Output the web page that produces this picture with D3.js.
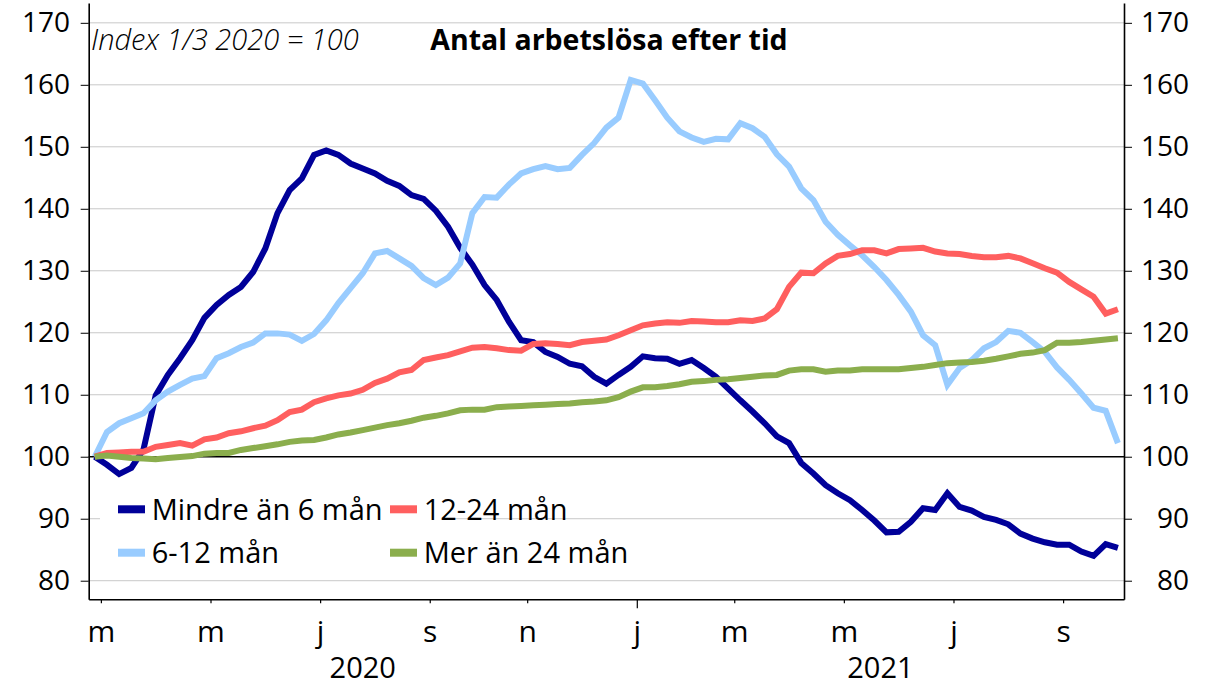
<!DOCTYPE html>
<html lang="sv">
<head>
<meta charset="UTF-8">
<title>Antal arbetslösa efter tid</title>
<script src="https://cdnjs.cloudflare.com/ajax/libs/d3/7.8.5/d3.min.js"></script>
<style>
  body { margin: 0; background: #fff; }
  svg { display: block; font-family: "Open Sans", sans-serif; }
  .grid line { stroke: #c8c8c8; stroke-width: 1; }
  .axis path, .axis line { stroke: #000; }
  .axis text { fill: #000; }
</style>
</head>
<body>
<svg id="chart" width="1216" height="686"></svg>
<script>
// weekly data, first week = v.9 2020 (index 1/3 2020 = 100)
const weeks = d3.timeMonday.range(new Date(2020, 1, 24), new Date(2021, 9, 5));

const mindre6 = [100, 98.7, 97.2, 98.2, 101.2, 109.9, 113.2, 115.9, 118.8, 122.4,
  124.5, 126.1, 127.4, 129.8, 133.6, 139.3, 143.0, 144.9, 148.7, 149.4,
  148.7, 147.3, 146.5, 145.7, 144.5, 143.7, 142.2, 141.6, 139.7, 137.1,
  133.7, 131.0, 127.7, 125.3, 121.8, 118.8, 118.5, 116.9, 116.1, 115.0,
  114.6, 112.9, 111.8, 113.2, 114.5, 116.2, 115.9, 115.8, 115.0, 115.6,
  114.3, 112.9, 111.0, 109.1, 107.3, 105.4, 103.3, 102.2, 99.0, 97.3,
  95.4, 94.1, 93.0, 91.4, 89.7, 87.8, 87.9, 89.5, 91.7, 91.4,
  94.1, 91.9, 91.3, 90.3, 89.8, 89.1, 87.6, 86.8, 86.2, 85.8,
  85.8, 84.7, 84.0, 85.9, 85.3];

const man6_12 = [100, 104.0, 105.4, 106.2, 107.0, 109.1, 110.5, 111.6, 112.6, 113.0,
  115.9, 116.7, 117.7, 118.4, 119.9, 119.9, 119.7, 118.7, 119.8, 122.0,
  124.8, 127.2, 129.6, 132.8, 133.2, 132.0, 130.8, 128.8, 127.7, 128.9,
  131.2, 139.3, 141.9, 141.8, 143.9, 145.7, 146.4, 146.9, 146.4, 146.6,
  148.7, 150.6, 153.1, 154.7, 160.8, 160.2, 157.5, 154.7, 152.5, 151.5,
  150.8, 151.3, 151.2, 153.8, 153.0, 151.6, 148.8, 146.8, 143.3, 141.4,
  137.9, 135.8, 134.1, 132.5, 130.6, 128.5, 126.1, 123.4, 119.6, 118.0,
  111.6, 114.3, 115.6, 117.5, 118.5, 120.3, 120.0, 118.5, 116.9, 114.4,
  112.4, 110.2, 107.9, 107.4, 102.2];

const man12_24 = [100, 100.6, 100.7, 100.8, 100.8, 101.6, 101.9, 102.2, 101.8, 102.8,
  103.1, 103.8, 104.1, 104.6, 105.0, 105.9, 107.2, 107.6, 108.8, 109.4,
  109.9, 110.2, 110.8, 111.9, 112.6, 113.6, 114.0, 115.6, 116.0, 116.4,
  117.0, 117.6, 117.7, 117.5, 117.2, 117.1, 118.2, 118.3, 118.2, 118.0,
  118.5, 118.7, 118.9, 119.6, 120.4, 121.2, 121.5, 121.7, 121.6, 121.9,
  121.8, 121.7, 121.7, 122.0, 121.9, 122.3, 123.8, 127.4, 129.7, 129.6,
  131.2, 132.4, 132.7, 133.3, 133.3, 132.8, 133.5, 133.6, 133.7, 133.1,
  132.8, 132.7, 132.4, 132.2, 132.2, 132.4, 132.0, 131.2, 130.4, 129.7,
  128.2, 127.0, 125.8, 123.1, 123.8];

const mer24 = [100, 100.2, 100.0, 99.8, 99.7, 99.6, 99.8, 99.95, 100.1, 100.5,
  100.6, 100.6, 101.1, 101.4, 101.7, 102.0, 102.4, 102.6, 102.7, 103.1,
  103.6, 103.9, 104.3, 104.7, 105.1, 105.4, 105.8, 106.3, 106.6, 107.0,
  107.5, 107.6, 107.6, 108.0, 108.1, 108.2, 108.3, 108.4, 108.5, 108.6,
  108.8, 108.9, 109.1, 109.6, 110.5, 111.2, 111.2, 111.4, 111.7, 112.1,
  112.2, 112.4, 112.5, 112.7, 112.9, 113.1, 113.2, 113.9, 114.1, 114.1,
  113.7, 113.9, 113.9, 114.1, 114.1, 114.1, 114.1, 114.3, 114.5, 114.8,
  115.1, 115.2, 115.3, 115.5, 115.8, 116.2, 116.6, 116.8, 117.2, 118.4,
  118.4, 118.5, 118.7, 118.9, 119.1];

const seriesNames = ["Mindre än 6 mån", "6-12 mån", "12-24 mån", "Mer än 24 mån"];
const seriesColors = ["#000099", "#99ccff", "#ff5f5f", "#8bae4d"];
const seriesValues = [mindre6, man6_12, man12_24, mer24];

const yTicks = [80, 90, 100, 110, 120, 130, 140, 150, 160, 170];
const monthLetters = ["j", "f", "m", "a", "m", "j", "j", "a", "s", "o", "n", "d"];
const years = ["2020", "2021"];

const svg = d3.select("#chart");
const plotL = 88.7, plotR = 1124, plotT = 3, plotB = 599.3;

const x = d3.scaleBand().domain(d3.range(weeks.length)).range([plotL, plotR]);
const xEdge = d3.scaleLinear().domain([0, weeks.length]).range([plotL, plotR]);
const y = d3.scaleLinear().domain([77, 173.2]).range([plotB, plotT]);

// gridlines
svg.append("g").attr("class", "grid")
  .selectAll("line").data(yTicks).join("line")
  .attr("x1", plotL).attr("x2", plotR)
  .attr("y1", d => y(d)).attr("y2", d => y(d))
  .style("stroke", d => d === 100 ? "#000" : null)
  .style("stroke-width", d => d === 100 ? 1.3 : null);

// legend background (hides the 90 gridline under the first column)
svg.append("rect")
  .attr("x", 100).attr("y", 490).attr("width", 345).attr("height", 82)
  .attr("fill", "#fff");

// month ticks: first monday of every other month (mar, maj, jul ...)
const tickIdx = weeks.map((d, i) => i).filter(i => weeks[i].getDate() <= 7 && weeks[i].getMonth() % 2 === 0);
const yearIdx = weeks.map((d, i) => i).filter(i => i === 0 || weeks[i].getFullYear() !== weeks[i - 1].getFullYear());

const xAxis = svg.append("g").attr("class", "axis")
  .attr("transform", `translate(0,${plotB})`)
  .call(d3.axisBottom(xEdge).tickValues(tickIdx).tickSize(4).tickSizeOuter(0)
    .tickFormat(i => monthLetters[weeks[i].getMonth()]));
xAxis.selectAll(".tick line").attr("stroke-width", 1.2)
  .attr("y2", i => yearIdx.includes(i) && i > 0 ? 9 : 4);
xAxis.selectAll(".tick text").attr("y", 42.4).attr("dy", 0)
  .style("font-size", "30px");

svg.append("g").selectAll("text").data(yearIdx).join("text")
  .attr("x", (d, k) => (xEdge(d) + xEdge(k + 1 < yearIdx.length ? yearIdx[k + 1] : weeks.length)) / 2)
  .attr("y", 678)
  .attr("text-anchor", "middle")
  .style("font-size", "29px")
  .text((d, k) => years[k]);

// y axes both sides
const yLeft = svg.append("g").attr("class", "axis")
  .attr("transform", `translate(${plotL},0)`)
  .call(d3.axisLeft(y).tickValues(yTicks).tickSize(8).tickSizeOuter(0).tickPadding(10.7));
const yRight = svg.append("g").attr("class", "axis")
  .attr("transform", `translate(${plotR},0)`)
  .call(d3.axisRight(y).tickValues(yTicks).tickSize(8).tickSizeOuter(0));
yRight.selectAll(".tick text").attr("x", 65).attr("text-anchor", "end");
svg.selectAll(".axis .domain").attr("stroke-width", 1.6);
yLeft.selectAll(".tick text").style("font-size", "28px");
yRight.selectAll(".tick text").style("font-size", "28px");
svg.selectAll(".axis").attr("font-family", null).attr("font-size", null);

// lines
const line = d3.line()
  .x((d, i) => x(i) + x.bandwidth() / 2)
  .y(d => y(d));

svg.append("g").selectAll("path").data(seriesValues).join("path")
  .attr("fill", "none")
  .attr("stroke", (d, i) => seriesColors[i])
  .attr("stroke-width", 6)
  .attr("stroke-linejoin", "miter")
  .attr("d", line);

// titles
svg.append("text")
  .attr("x", 91).attr("y", 50)
  .style("font-size", "29px").style("font-style", "italic").style("font-weight", 300)
  .text("Index 1/3 2020 = 100");
svg.append("text")
  .attr("x", 609).attr("y", 50).attr("text-anchor", "middle")
  .style("font-size", "28.5px").style("font-weight", 700)
  .text("Antal arbetslösa efter tid");

// legend, 2 columns
const legendOrder = [0, 2, 1, 3];
const legX = [118, 390], legY = [509.3, 552.7];
const leg = svg.append("g").selectAll("g").data(legendOrder).join("g")
  .attr("transform", (s, k) => `translate(${legX[k % 2]},${legY[Math.floor(k / 2)]})`);
leg.append("line")
  .attr("x1", 0).attr("x2", 27)
  .attr("stroke", s => seriesColors[s]).attr("stroke-width", 8);
leg.append("text")
  .attr("x", 33.7).attr("y", 10.7)
  .style("font-size", "29px")
  .text(s => seriesNames[s]);
</script>
</body>
</html>
